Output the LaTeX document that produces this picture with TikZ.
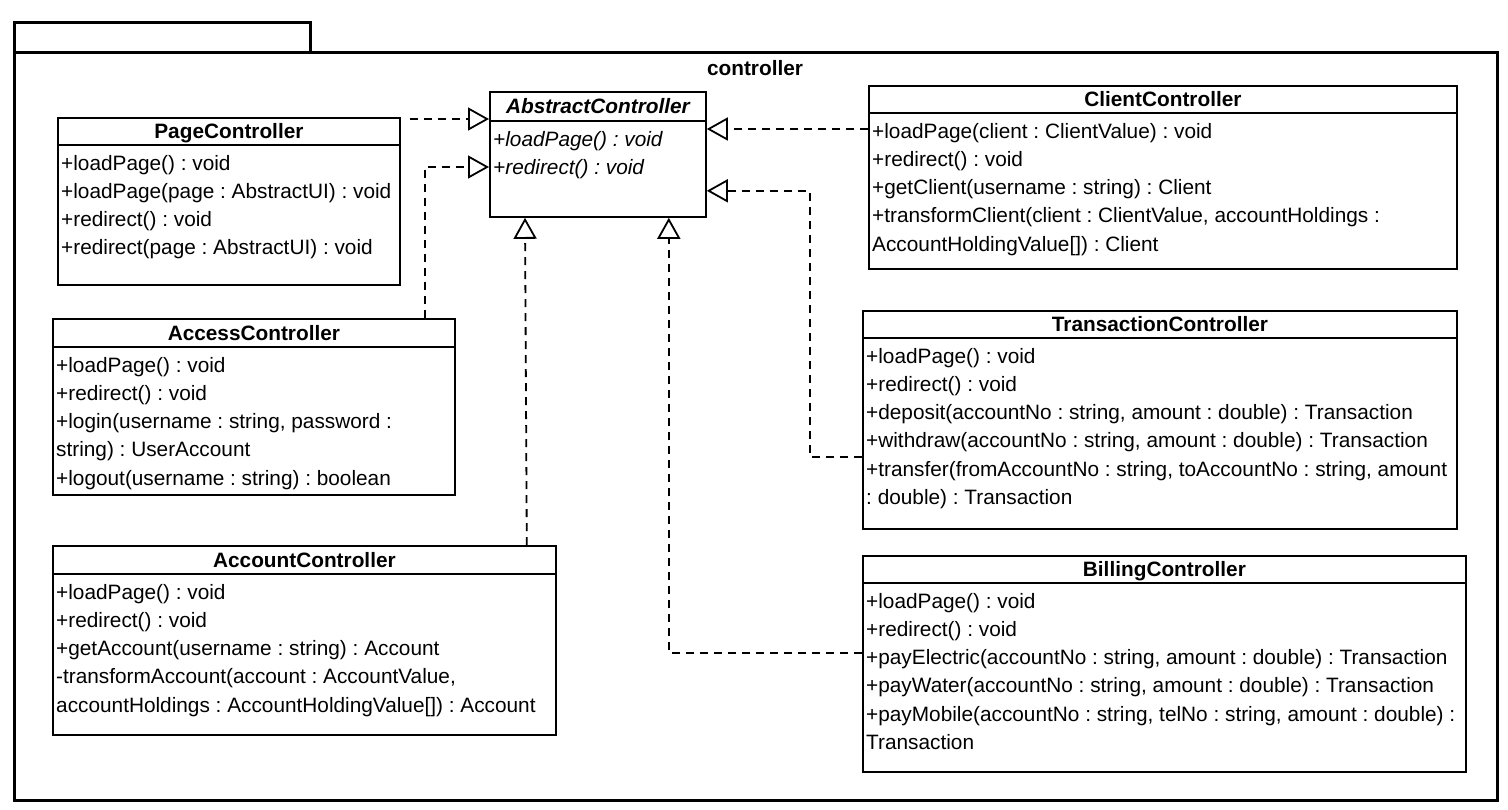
\documentclass[tikz,border=0pt]{standalone}
\usepackage{fontspec}
\setmainfont{Liberation Sans}
\usetikzlibrary{arrows.meta}
\frenchspacing
\newcommand{\umlclass}[8]{%
  \node[clsbox, minimum width=#4pt, minimum height=#5pt] (#1) at (#2,#3) {};
  \draw[clsline] ([yshift=-#6pt]#1.north west) -- ([yshift=-#6pt]#1.north east);
  \node[clstitle, anchor=base] (#1-t) at ([yshift={-#6pt/2-7.5pt}]#1.north) {#7};
  \foreach \t [count=\i] in {#8} {
    \node[clsmember, anchor=base west] (#1-\i) at ([shift={(4pt,{-#6pt-25pt-28.3pt*(\i-1)})}]#1.north west) {\t};
  }%
}
\begin{document}
\begin{tikzpicture}[x=1pt,y=-1pt,
  clsbox/.style={draw, line width=1.8pt, inner sep=0pt, anchor=north west, fill=white},
  clsline/.style={line width=1.8pt},
  clstitle/.style={font=\fontsize{20.8pt}{25pt}\selectfont\frenchspacing\bfseries, inner sep=0pt},
  clsmember/.style={font=\fontsize{20.8pt}{25pt}\selectfont\frenchspacing, inner sep=0pt},
  frameline/.style={line width=3pt},
  dep/.style={line width=1.8pt, dash pattern=on 8pt off 6pt, -{Triangle[open, length=21pt, width=23pt]}}]
\useasboundingbox (0,0) rectangle (1508,809);
% package frame
\draw[frameline] (14,52) |- (310,22) -- (310,52);
\draw[frameline] (14,52) rectangle (1497,800);
\node[clstitle, anchor=base] (pkgname) at (755,75) {controller};
% classes
\umlclass{page}{57}{117}{342}{167}{28}{PageController}{{+loadPage() : void},{+loadPage(page : AbstractUI) : void},{+redirect() : void},{+redirect(page : AbstractUI) : void}}
\umlclass{abs}{489}{91}{216}{125}{30}{\itshape AbstractController}{{\itshape +loadPage() : void},{\itshape +redirect() : void}}
\umlclass{client}{868}{85}{588}{183}{28}{ClientController}{{+loadPage(client : ClientValue) : void},{+redirect() : void},{+getClient(username : string) : Client},{+transformClient(client : ClientValue, accountHoldings :},{AccountHoldingValue[]) : Client}}
\umlclass{access}{52}{318}{402}{176}{29}{AccessController}{{+loadPage() : void},{+redirect() : void},{+login(username : string, password :},{string) : UserAccount},{+logout(username : string) : boolean}}
\umlclass{trans}{862}{310}{594}{218}{28}{TransactionController}{{+loadPage() : void},{+redirect() : void},{+deposit(accountNo : string, amount : double) : Transaction},{+withdraw(accountNo : string, amount : double) : Transaction},{+transfer(fromAccountNo : string, toAccountNo : string, amount},{: double) : Transaction}}
\umlclass{account}{52}{545}{503}{189}{29}{AccountController}{{+loadPage() : void},{+redirect() : void},{+getAccount(username : string) : Account},{-transformAccount(account : AccountValue,},{accountHoldings : AccountHoldingValue[]) : Account}}
\umlclass{billing}{862}{555}{603}{216}{28}{BillingController}{{+loadPage() : void},{+redirect() : void},{+payElectric(accountNo : string, amount : double) : Transaction},{+payWater(accountNo : string, amount : double) : Transaction},{+payMobile(accountNo : string, telNo : string, amount : double) :},{Transaction}}
% realizations
\draw[dep] ([shift={(9pt,-2pt)}]page.north east) -- ([yshift=-28pt]abs.north west);
\draw[dep] ([xshift=-31pt]access.north east) |- ([yshift=-76pt]abs.north west);
\draw[dep] ([xshift=-30pt]account.north east) -- ([xshift=36pt]abs.south west);
\draw[dep] ([yshift=-98pt]billing.north west) -| ([xshift=-38pt]abs.south east);
\draw[dep] ([yshift=-147pt]trans.north west) -| ([shift={(103pt,27pt)}]abs.south east) -- ([yshift=27pt]abs.south east);
\draw[dep] ([yshift=-44pt]client.north west) -- ([yshift=-38pt]abs.north east);
\end{tikzpicture}
\end{document}
